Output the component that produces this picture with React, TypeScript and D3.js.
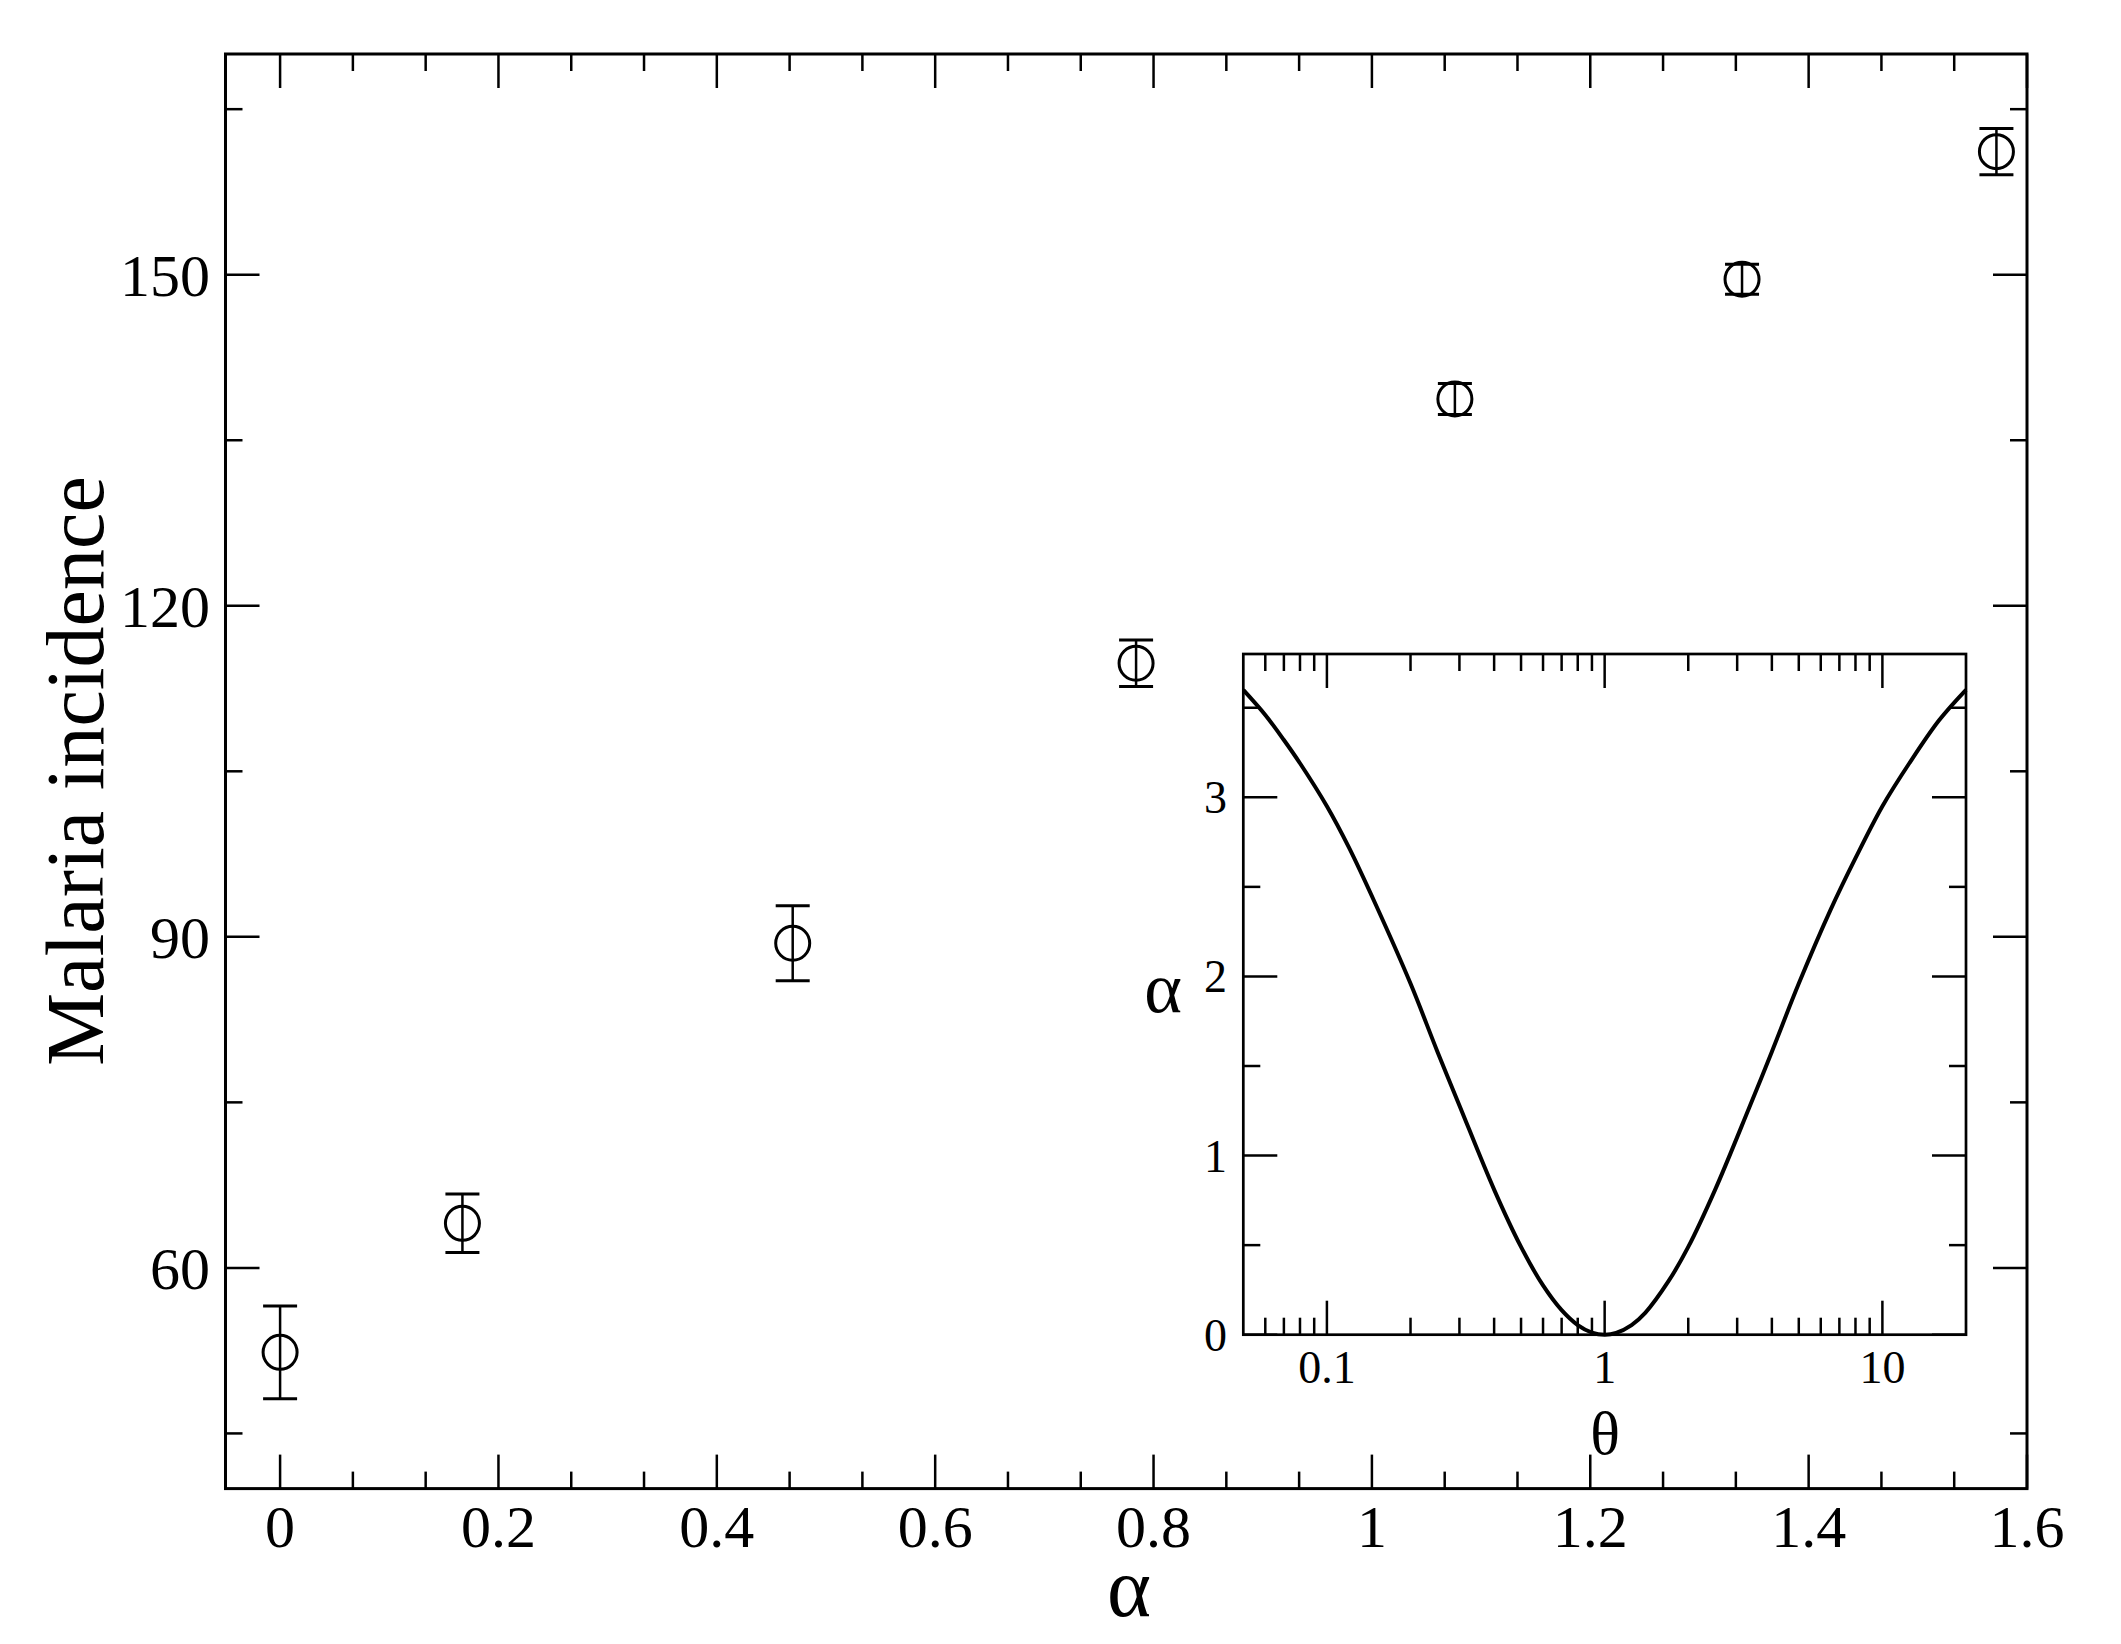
import React from 'react';
import * as d3 from 'd3';

// Main chart data
const alphaValues = [0.0, 0.167, 0.4695, 0.784, 1.076, 1.339, 1.572];
const incidenceValues = [52.35, 64.04, 89.42, 114.79, 138.74, 149.59, 161.15];
const incidenceErrors = [4.2, 2.65, 3.4, 2.1, 1.4, 1.36, 2.1];

const xMajorTicks = [0, 0.2, 0.4, 0.6, 0.8, 1.0, 1.2, 1.4, 1.6];
const xTickLabels = ['0', '0.2', '0.4', '0.6', '0.8', '1', '1.2', '1.4', '1.6'];
const yMajorTicks = [60, 90, 120, 150];
const yTickLabels = ['60', '90', '120', '150'];
const yMinorTicks = [45, 75, 105, 135, 165];

// Inset data
const thetaValues = [0.05, 0.06, 0.07, 0.08, 0.1, 0.12, 0.15, 0.2, 0.25, 0.3, 0.4, 0.5, 0.6, 0.7, 0.8, 0.9, 1.0, 1.1, 1.25, 1.4, 1.7, 2, 2.5, 3.3, 4, 5, 6.5, 8, 10, 12.5, 16, 20];
const thetaAlphaValues = [3.6, 3.46, 3.32, 3.19, 2.95, 2.72, 2.4, 1.96, 1.58, 1.28, 0.81, 0.49, 0.275, 0.137, 0.054, 0.012, 0.0, 0.01, 0.054, 0.122, 0.3, 0.49, 0.81, 1.26, 1.58, 1.96, 2.37, 2.66, 2.95, 3.19, 3.43, 3.6];
const insetXMajor = [0.1, 1, 10];
const insetXLabels = ['0.1', '1', '10'];
const insetYMajor = [0, 1, 2, 3];
const insetYLabels = ['0', '1', '2', '3'];
const insetYMinor = [0.5, 1.5, 2.5, 3.5];

const FONT = '"Liberation Serif", "DejaVu Serif", serif';

export default function App() {
  const M = { left: 225.5, right: 2027, top: 54, bottom: 1488.6 };
  const x = d3.scaleLinear().domain([-0.05, 1.6]).range([M.left, M.right]);
  const y = d3.scaleLinear().domain([40, 170]).range([M.bottom, M.top]);

  const xMinor: number[] = [];
  for (let i = 0; i < xMajorTicks.length - 1; i++) {
    const a = xMajorTicks[i], b = xMajorTicks[i + 1];
    xMinor.push(a + (b - a) / 3, a + (2 * (b - a)) / 3);
  }

  const I = { left: 1243.3, right: 1966, top: 654, bottom: 1334.7 };
  const ix = d3.scaleLog().domain([0.05, 20]).range([I.left, I.right]);
  const iy = d3.scaleLinear().domain([0, 3.8]).range([I.bottom, I.top]);
  const logTicks = ix.ticks().filter((t) => t > 0.05 && t < 20);
  const isMajorLog = (t: number) => insetXMajor.some((m) => Math.abs(m - t) < 1e-9);

  const curve = d3
    .line<number>()
    .x((_, i) => ix(thetaValues[i]))
    .y((d) => iy(d))
    .curve(d3.curveCatmullRom.alpha(0.5))(thetaAlphaValues) as string;

  const majLen = 34, minLen = 17;
  const tickW = 2.5;

  return (
    <svg width={2121} height={1644} style={{ position: 'absolute', left: 0, top: 0, background: '#fff' }} fontFamily={FONT}>
      <rect x={0} y={0} width={2121} height={1644} fill="#fff" />
      {/* Main frame */}
      <rect x={M.left} y={M.top} width={M.right - M.left} height={M.bottom - M.top} fill="none" stroke="#000" strokeWidth={3} />
      {/* x ticks */}
      {xMajorTicks.map((t) => (
        <g key={'xM' + t}>
          <line x1={x(t)} x2={x(t)} y1={M.bottom} y2={M.bottom - majLen} stroke="#000" strokeWidth={tickW} />
          <line x1={x(t)} x2={x(t)} y1={M.top} y2={M.top + majLen} stroke="#000" strokeWidth={tickW} />
        </g>
      ))}
      {xMinor.map((t) => (
        <g key={'xm' + t}>
          <line x1={x(t)} x2={x(t)} y1={M.bottom} y2={M.bottom - minLen} stroke="#000" strokeWidth={tickW} />
          <line x1={x(t)} x2={x(t)} y1={M.top} y2={M.top + minLen} stroke="#000" strokeWidth={tickW} />
        </g>
      ))}
      {xMajorTicks.map((t, i) => (
        <text key={'xl' + t} x={x(t)} y={1546.7} textAnchor="middle" fontSize={60}>{xTickLabels[i]}</text>
      ))}
      {/* y ticks */}
      {yMajorTicks.map((t) => (
        <g key={'yM' + t}>
          <line x1={M.left} x2={M.left + majLen} y1={y(t)} y2={y(t)} stroke="#000" strokeWidth={tickW} />
          <line x1={M.right} x2={M.right - majLen} y1={y(t)} y2={y(t)} stroke="#000" strokeWidth={tickW} />
        </g>
      ))}
      {yMinorTicks.map((t) => (
        <g key={'ym' + t}>
          <line x1={M.left} x2={M.left + minLen} y1={y(t)} y2={y(t)} stroke="#000" strokeWidth={tickW} />
          <line x1={M.right} x2={M.right - minLen} y1={y(t)} y2={y(t)} stroke="#000" strokeWidth={tickW} />
        </g>
      ))}
      {yMajorTicks.map((t, i) => (
        <text key={'yl' + t} x={210} y={y(t) + 21} textAnchor="end" fontSize={60}>{yTickLabels[i]}</text>
      ))}
      {/* Axis titles */}
      <text transform={`translate(103, 771) rotate(-90)`} textAnchor="middle" fontSize={82}>Malaria incidence</text>
      <text x={1129} y={1616} textAnchor="middle" fontSize={84}>α</text>

      {/* Data points */}
      {alphaValues.map((a, i) => {
        const cx = x(a);
        const cy = y(incidenceValues[i]);
        const yt = y(incidenceValues[i] + incidenceErrors[i]);
        const yb = y(incidenceValues[i] - incidenceErrors[i]);
        return (
          <g key={'p' + i}>
            <line x1={cx} x2={cx} y1={yt} y2={yb} stroke="#000" strokeWidth={2.5} />
            <line x1={cx - 17} x2={cx + 17} y1={yt} y2={yt} stroke="#000" strokeWidth={3} />
            <line x1={cx - 17} x2={cx + 17} y1={yb} y2={yb} stroke="#000" strokeWidth={3} />
            <circle cx={cx} cy={cy} r={17} fill="none" stroke="#000" strokeWidth={3} />
          </g>
        );
      })}

      {/* Inset */}
      <rect x={I.left} y={I.top} width={I.right - I.left} height={I.bottom - I.top} fill="#fff" stroke="none" />
      {logTicks.map((t) => {
        const L = isMajorLog(t) ? majLen : minLen;
        return (
          <g key={'ix' + t}>
            <line x1={ix(t)} x2={ix(t)} y1={I.bottom} y2={I.bottom - L} stroke="#000" strokeWidth={tickW} />
            <line x1={ix(t)} x2={ix(t)} y1={I.top} y2={I.top + L} stroke="#000" strokeWidth={tickW} />
          </g>
        );
      })}
      {insetXMajor.map((t, i) => (
        <text key={'ixl' + t} x={ix(t)} y={1383} textAnchor="middle" fontSize={46}>{insetXLabels[i]}</text>
      ))}
      {insetYMajor.map((t) => (
        <g key={'iyM' + t}>
          <line x1={I.left} x2={I.left + majLen} y1={iy(t)} y2={iy(t)} stroke="#000" strokeWidth={tickW} />
          <line x1={I.right} x2={I.right - majLen} y1={iy(t)} y2={iy(t)} stroke="#000" strokeWidth={tickW} />
        </g>
      ))}
      {insetYMinor.map((t) => (
        <g key={'iym' + t}>
          <line x1={I.left} x2={I.left + minLen} y1={iy(t)} y2={iy(t)} stroke="#000" strokeWidth={tickW} />
          <line x1={I.right} x2={I.right - minLen} y1={iy(t)} y2={iy(t)} stroke="#000" strokeWidth={tickW} />
        </g>
      ))}
      {insetYMajor.map((t, i) => (
        <text key={'iyl' + t} x={1227} y={iy(t) + 16} textAnchor="end" fontSize={46}>{insetYLabels[i]}</text>
      ))}
      <path d={curve} fill="none" stroke="#000" strokeWidth={4} strokeLinejoin="round" />
      <rect x={I.left} y={I.top} width={I.right - I.left} height={I.bottom - I.top} fill="none" stroke="#000" strokeWidth={2.7} />
      <text x={1605} y={1454} textAnchor="middle" fontSize={62}>θ</text>
      <text x={1163} y={1012} textAnchor="middle" fontSize={72}>α</text>
    </svg>
  );
}
